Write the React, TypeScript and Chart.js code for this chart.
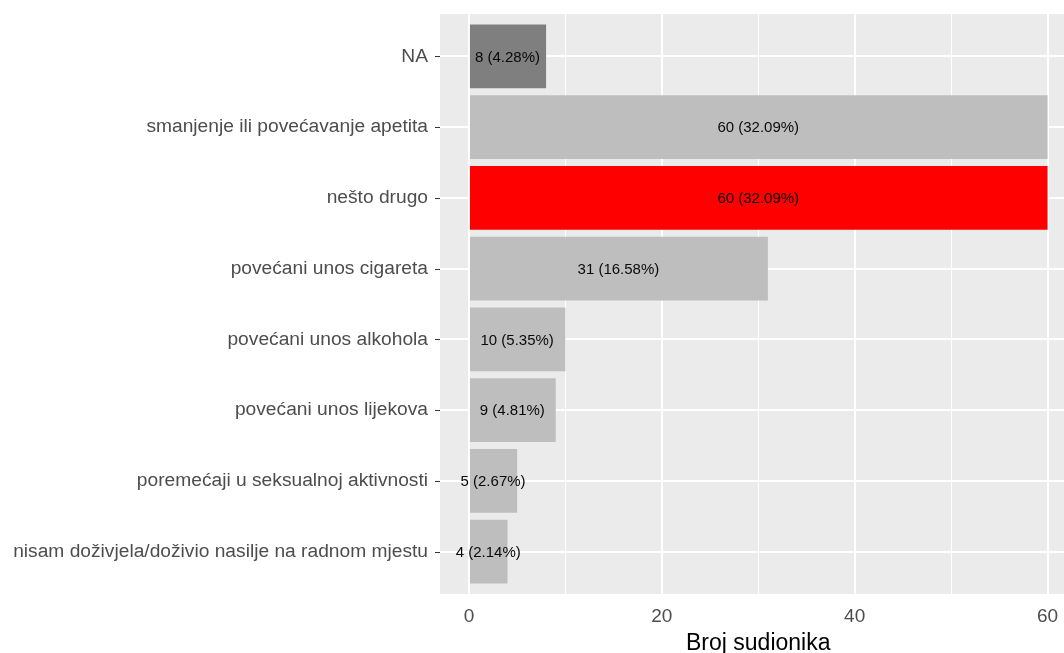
import React, { useEffect, useRef } from "react";
import { Chart, registerables } from "chart.js";

Chart.register(...registerables);

const categories: string[] = [
  "NA",
  "smanjenje ili povećavanje apetita",
  "nešto drugo",
  "povećani unos cigareta",
  "povećani unos alkohola",
  "povećani unos lijekova",
  "poremećaji u seksualnoj aktivnosti",
  "nisam doživjela/doživio nasilje na radnom mjestu",
];
const counts: number[] = [8, 60, 60, 31, 10, 9, 5, 4];
const barColors: string[] = [
  "#7F7F7F",
  "#BEBEBE",
  "#FF0000",
  "#BEBEBE",
  "#BEBEBE",
  "#BEBEBE",
  "#BEBEBE",
  "#BEBEBE",
];
const xTicks: number[] = [0, 10, 20, 30, 40, 50, 60];
const xLabelTicks: number[] = [0, 20, 40, 60];
const xTitle = "Broj sudionika";

const FONT = "'Liberation Sans', Arial, sans-serif";

export default function App() {
  const ref = useRef<HTMLCanvasElement | null>(null);

  useEffect(() => {
    if (!ref.current) return;
    const total = counts.reduce((a, b) => a + b, 0);
    const labelsText = counts.map((c) => `${c} (${((c / total) * 100).toFixed(2)}%)`);

    const panelPlugin = {
      id: "panel",
      beforeDraw(chart: any) {
        const { ctx, chartArea } = chart;
        ctx.save();
        ctx.fillStyle = "#EBEBEB";
        ctx.fillRect(chartArea.left, chartArea.top, chartArea.right - chartArea.left, chartArea.bottom - chartArea.top);
        ctx.restore();
      },
      afterDraw(chart: any) {
        const { ctx, chartArea, scales } = chart;
        ctx.save();
        // y ticks
        ctx.strokeStyle = "#333333";
        ctx.lineWidth = 1;
        categories.forEach((_, i) => {
          const y = Math.round(scales.y.getPixelForValue(i + 1)) + 0.5;
          ctx.beginPath();
          ctx.moveTo(chartArea.left - 5, y);
          ctx.lineTo(chartArea.left, y);
          ctx.stroke();
        });
        // data labels
        ctx.fillStyle = "#0A0A0A";
        ctx.font = `15px ${FONT}`;
        ctx.textAlign = "center";
        ctx.textBaseline = "middle";
        counts.forEach((c, i) => {
          const x = scales.x.getPixelForValue(c / 2);
          const y = scales.y.getPixelForValue(i + 1);
          ctx.fillText(labelsText[i], x, y + 1);
        });
        // x title
        ctx.fillStyle = "#000000";
        ctx.font = `23px ${FONT}`;
        ctx.textBaseline = "alphabetic";
        ctx.fillText(xTitle, (chartArea.left + chartArea.right) / 2, 650);
        ctx.restore();
      },
    };

    const chart = new Chart(ref.current, {
      type: "bar",
      data: {
        datasets: [
          {
            data: counts.map((c, i) => ({ x: c, y: i + 1 })),
            backgroundColor: barColors,
            borderWidth: 0,
            barPercentage: 0.9,
            categoryPercentage: 1,
          },
        ],
      },
      options: {
        indexAxis: "y",
        animation: false,
        responsive: false,
        layout: { padding: { top: 14, right: 3.5, left: 0, bottom: 0 } },
        plugins: { legend: { display: false }, tooltip: { enabled: false } },
        scales: {
          x: {
            type: "linear",
            min: -3,
            max: 63,
            offset: false,
            afterBuildTicks: (scale: any) => {
              scale.ticks = xTicks.map((v) => ({ value: v }));
            },
            afterFit: (scale: any) => {
              scale.height = 59;
              scale.paddingLeft = 0;
              scale.paddingRight = 0;
            },
            border: { display: false },
            grid: {
              offset: false,
              color: "#FFFFFF",
              lineWidth: (ctx: any) => (ctx.tick && ctx.tick.value % 20 === 0 ? 2 : 1),
              drawTicks: false,
            },
            ticks: {
              autoSkip: false,
              maxRotation: 0,
              padding: 11,
              color: "#4D4D4D",
              font: { family: FONT, size: 19 },
              callback: (v: any) => (xLabelTicks.includes(Number(v)) ? String(v) : ""),
            },
          },
          y: {
            type: "linear",
            min: 0.4,
            max: 8.6,
            reverse: true,
            offset: false,
            afterBuildTicks: (scale: any) => {
              scale.ticks = categories.map((_, i) => ({ value: i + 1 }));
            },
            afterFit: (scale: any) => {
              scale.width = 440;
              scale.paddingTop = 0;
              scale.paddingBottom = 0;
            },
            border: { display: false },
            grid: {
              offset: false,
              color: "#FFFFFF",
              lineWidth: 2,
              drawTicks: false,
            },
            ticks: {
              autoSkip: false,
              padding: 12,
              color: "#4D4D4D",
              font: { family: FONT, size: 19.2 },
              callback: (v: any) => categories[Number(v) - 1] ?? "",
            },
          },
        },
      },
      plugins: [panelPlugin],
    });
    return () => chart.destroy();
  }, []);

  return (
    <div
      style={{
        position: "fixed",
        left: 0,
        top: 0,
        width: 1064,
        height: 653,
        overflow: "hidden",
        background: "#FFFFFF",
      }}
    >
      <canvas ref={ref} width={1080} height={653} style={{ width: 1080, height: 653, display: "block" }} />
    </div>
  );
}
